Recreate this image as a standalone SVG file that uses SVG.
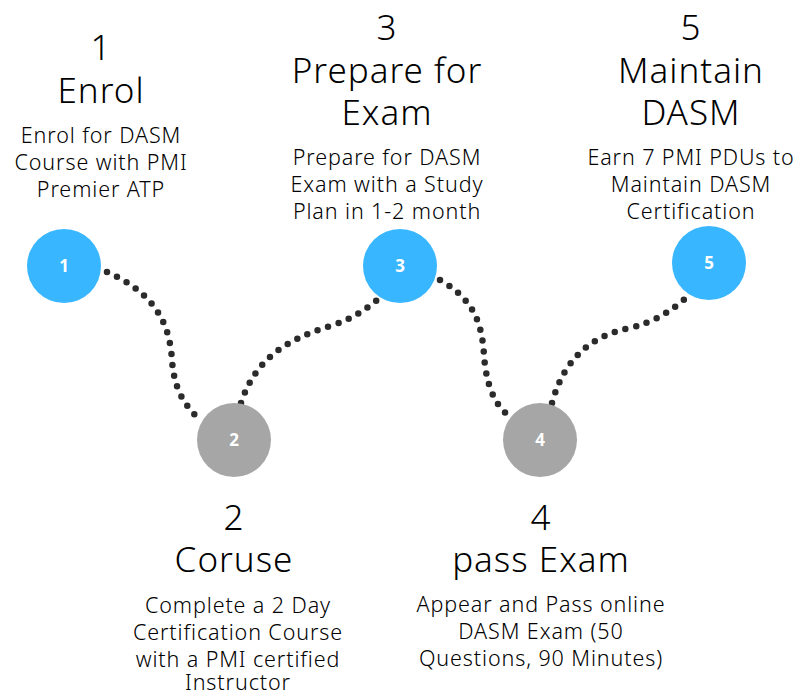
<svg xmlns="http://www.w3.org/2000/svg" width="801" height="693" viewBox="0 0 801 693">
<style>
.t{font-family:"Noto Sans","Liberation Sans",sans-serif;font-size:35px;font-weight:300;letter-spacing:1px;fill:#000;text-anchor:middle}
.d{font-family:"Noto Sans","Liberation Sans",sans-serif;font-size:21.5px;font-weight:300;letter-spacing:0.9px;fill:#000;text-anchor:middle}
.n{font-family:"Noto Sans","Liberation Sans",sans-serif;font-size:17px;font-weight:bold;fill:#fff;text-anchor:middle}
.blue{fill:#38b6ff}
.gray{fill:#a6a6a6}
.c{fill:none;stroke:#2b2b2b;stroke-width:6.5;stroke-linecap:round;stroke-dasharray:0 11}
</style>
<rect width="801" height="693" fill="#fff"/>
<g id="connectors">
<path class="c" d="M107,272 C160,295 170,330 172,360 S185,405 198,418"/>
<path class="c" d="M241,403 C255,360 285,340 330,326 C350,320 365,310 377,300"/>
<path class="c" d="M440,280 C475,300 482,325 484,355 S495,405 508,415"/>
<path class="c" d="M552,403 C565,355 595,335 630,328 C655,322 672,310 686,298"/>
</g>
<g id="node1">
<circle class="blue" cx="64" cy="266" r="37"/>
<text class="n" x="64" y="272">1</text>
<text class="t" x="101" y="60">1</text>
<text class="t" x="101" y="103">Enrol</text>
<text class="d" x="101" y="143">Enrol for DASM</text>
<text class="d" x="101" y="170">Course with PMI</text>
<text class="d" x="101" y="197">Premier ATP</text>
</g>
<g id="node2">
<circle class="gray" cx="234" cy="440" r="37"/>
<text class="n" x="234" y="446">2</text>
<text class="t" x="234" y="530">2</text>
<text class="t" x="234" y="572">Coruse</text>
<text class="d" x="238" y="613">Complete a 2 Day</text>
<text class="d" x="238" y="640">Certification Course</text>
<text class="d" x="238" y="667">with a PMI certified</text>
<text class="d" x="238" y="690">Instructor</text>
</g>
<g id="node3">
<circle class="blue" cx="400" cy="266" r="37"/>
<text class="n" x="400" y="272">3</text>
<text class="t" x="387" y="40">3</text>
<text class="t" x="387" y="83">Prepare for</text>
<text class="t" x="387" y="125">Exam</text>
<text class="d" x="387" y="165">Prepare for DASM</text>
<text class="d" x="387" y="192">Exam with a Study</text>
<text class="d" x="387" y="219">Plan in 1-2 month</text>
</g>
<g id="node4">
<circle class="gray" cx="540" cy="440" r="37"/>
<text class="n" x="540" y="446">4</text>
<text class="t" x="541" y="530">4</text>
<text class="t" x="541" y="572">pass Exam</text>
<text class="d" x="541" y="612">Appear and Pass online</text>
<text class="d" x="541" y="639">DASM Exam (50</text>
<text class="d" x="541" y="666">Questions, 90 Minutes)</text>
</g>
<g id="node5">
<circle class="blue" cx="709" cy="263" r="37"/>
<text class="n" x="709" y="269">5</text>
<text class="t" x="691" y="40">5</text>
<text class="t" x="691" y="83">Maintain</text>
<text class="t" x="691" y="125">DASM</text>
<text class="d" x="691" y="165">Earn 7 PMI PDUs to</text>
<text class="d" x="691" y="192">Maintain DASM</text>
<text class="d" x="691" y="219">Certification</text>
</g>
</svg>
